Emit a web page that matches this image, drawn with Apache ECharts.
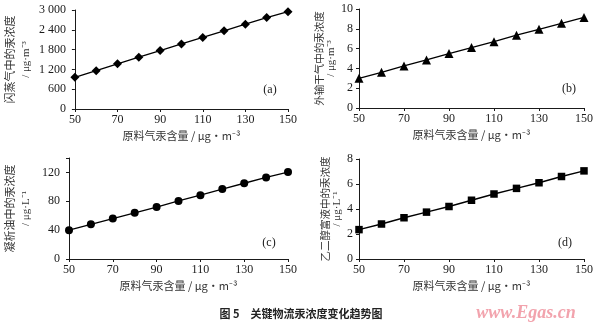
<!DOCTYPE html>
<html><head><meta charset="utf-8">
<script src="https://cdn.jsdelivr.net/npm/echarts@6/dist/echarts.min.js"></script>
<style>html,body{margin:0;padding:0;background:#fff}#c{width:600px;height:327px}</style>
</head><body><div id="c"></div>
<script>
var xValues = [50, 60, 70, 80, 90, 100, 110, 120, 130, 140, 150];
var seriesA = [960, 1160, 1370, 1570, 1770, 1970, 2170, 2370, 2570, 2770, 2950];
var seriesB = [3.0, 3.6, 4.25, 4.85, 5.5, 6.1, 6.7, 7.35, 7.95, 8.55, 9.15];
var seriesC = [40, 48, 56, 64, 72, 80.5, 88.5, 97, 105, 113, 120.5];
var seriesD = [2.35, 2.8, 3.3, 3.75, 4.2, 4.7, 5.2, 5.65, 6.1, 6.6, 7.05];
var xName = '原料气汞含量 / μg·m⁻³';
var yNames = [
  ['闪蒸气中的汞浓度', '/ μg·m⁻³'],
  ['外输干气中的汞浓度', '/ μg·m⁻³'],
  ['凝析油中的汞浓度', '/ μg·L⁻¹'],
  ['乙二醇富液中的汞浓度', '/ μg·L⁻¹']
];
var panelTags = ['(a)', '(b)', '(c)', '(d)'];
var captionText = '图 5　关键物流汞浓度变化趋势图';
var watermark = 'www.Egas.cn';

var serif = 'Liberation Serif, Times New Roman, serif';
var cjk = 'Noto Sans CJK SC, sans-serif';
var ink = '#1a1a1a';

function pairs(ys){ return xValues.map(function(x,i){ return [x, ys[i]]; }); }

var grids = [
  {left: 63, top: 10, width: 225, height: 99},
  {left: 359, top: 9, width: 225, height: 99},
  {left: 63, top: 158, width: 225, height: 101},
  {left: 359, top: 159, width: 225, height: 100}
];
var yCfg = [
  {min: 0, max: 3000, interval: 600, gap: 34, margin: 9, fs: 11, lh: 17},
  {min: 0, max: 10, interval: 2, gap: 10, margin: 6, fs: 10.5, lh: 12},
  {min: 0, max: 140, interval: 40, gap: 34, margin: 9, fs: 11, lh: 17},
  {min: 0, max: 8, interval: 2, gap: 10, margin: 6, fs: 10.5, lh: 12}
];
var symbols = [['diamond', 9], ['triangle', 9], ['circle', 8], ['rect', 7.5]];
var data = [seriesA, seriesB, seriesC, seriesD];

var axisLine = {show: true, lineStyle: {color: ink, width: 1}};
var xAxes = grids.map(function(g, i){
  return {
    type: 'value', gridIndex: i, min: 50, max: 150, interval: 20,
    axisLine: axisLine, splitLine: {show: false},
    axisTick: {show: true, inside: false, length: 3, lineStyle: {color: ink}},
    axisLabel: {fontFamily: serif, fontSize: 12, color: ink, margin: 5},
    name: xName, nameLocation: 'middle', nameGap: 21,
    nameTextStyle: {fontFamily: cjk, fontSize: 11, color: '#333'}
  };
});
var yAxes = grids.map(function(g, i){
  var c = yCfg[i];
  return {
    type: 'value', gridIndex: i, min: c.min, max: c.max, interval: c.interval,
    axisLine: axisLine, splitLine: {show: false},
    axisTick: {show: true, inside: false, length: 3, lineStyle: {color: ink}},
    axisLabel: {fontFamily: serif, fontSize: 12, color: ink, margin: c.margin,
      formatter: function(v){
        if (i === 2 && v > 130) return '';
        var s = String(v);
        return v >= 1000 ? s.replace(/\B(?=(\d{3})+$)/, ' ') : s;
      }},
    name: '{a|' + yNames[i][0] + '}\n{b|' + yNames[i][1] + '}',
    nameLocation: 'middle', nameRotate: 90, nameGap: c.gap,
    nameTextStyle: {
      lineHeight: c.lh,
      rich: {
        a: {fontFamily: cjk, fontSize: c.fs, color: '#333', lineHeight: c.lh},
        b: {fontFamily: serif, fontSize: 11, color: '#333', lineHeight: c.lh}
      }
    }
  };
});
var series = grids.map(function(g, i){
  return {
    type: 'line', xAxisIndex: i, yAxisIndex: i, data: pairs(data[i]),
    symbol: symbols[i][0], symbolSize: symbols[i][1], showSymbol: true,
    lineStyle: {color: '#000', width: 1.3}, itemStyle: {color: '#000'},
    animation: false
  };
});
var tagPos = [[270, 90], [569, 89], [269, 243], [565, 243]];
var graphics = tagPos.map(function(p, i){
  return {type: 'text', x: p[0], y: p[1], style: {text: panelTags[i], font: '12px ' + serif, fill: ink, align: 'center', verticalAlign: 'middle'}};
});
graphics.push({type: 'text', x: 301, y: 314, style: {text: captionText, font: 'bold 11px ' + cjk, fill: '#222', align: 'center', verticalAlign: 'middle'}});
graphics.push({type: 'text', x: 526, y: 313, style: {text: watermark, font: 'italic bold 18px ' + serif, fill: '#f2a3ad', align: 'center', verticalAlign: 'middle'}});

var chart = echarts.init(document.getElementById('c'), null, {renderer: 'canvas'});
chart.setOption({
  animation: false,
  backgroundColor: '#fff',
  grid: grids,
  xAxis: xAxes,
  yAxis: yAxes,
  series: series,
  graphic: graphics
});
</script></body></html>
